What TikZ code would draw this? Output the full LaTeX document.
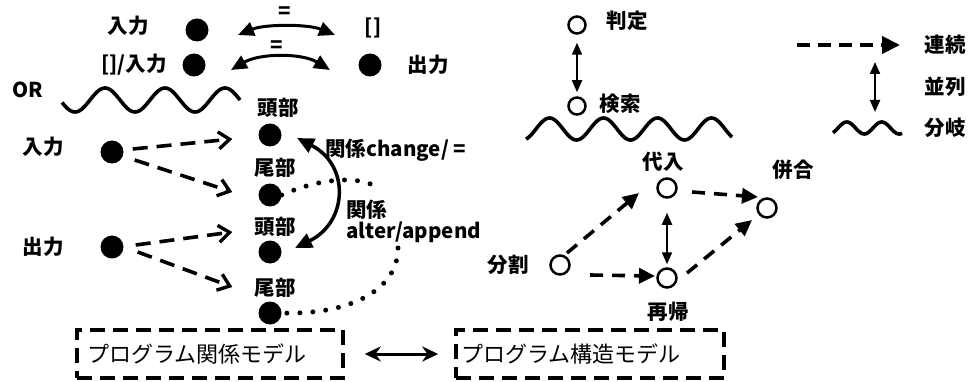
\documentclass[tikz,border=0pt]{standalone}
\usepackage{fontspec}
\setmainfont{Noto Sans CJK JP}
\usetikzlibrary{arrows.meta,calc}
\begin{document}
\begin{tikzpicture}[x=1pt,y=-1pt,
  lbl/.style={font=\bfseries\fontsize{20.5}{22}\selectfont, inner sep=0pt},
  dot/.style={circle, fill=black, minimum size=23pt, inner sep=0pt},
  ring/.style={circle, draw=black, line width=2.5pt, minimum size=19pt, inner sep=0pt},
  ringsm/.style={ring, minimum size=17pt},
  dasharr/.style={line width=3.6pt, dash pattern=on 15pt off 9pt, -{Straight Barb[length=11pt,width=17pt,line width=3.4pt]}},
  darr/.style={line width=3.6pt, dash pattern=on 13pt off 9pt, -{Triangle[length=16pt,width=15pt]}},
  arcarr/.style={line width=3pt, {Triangle[length=16pt,width=14pt]}-{Triangle[length=16pt,width=14pt]}},
  thinarr/.style={line width=2pt, {Triangle[length=12pt,width=10pt]}-{Triangle[length=12pt,width=10pt]}},
  wave/.style={line width=3.6pt, smooth},
  dotted line/.style={line width=5pt, dash pattern=on 0pt off 13pt, line cap=round},
  boxed/.style={draw=black, line width=3.5pt, dash pattern=on 15pt off 8pt, font=\fontsize{22}{24}\selectfont, minimum height=48pt, align=left}
]
\useasboundingbox[fill=white] (0,0) rectangle (973,382);

% ---------- top left: equalities ----------
\node[lbl] (inAl) at (128,26) {入力};
\node[dot] (inA) at (197,30) {};
\node[lbl] (nil) at (373,28) {[]};
\node[lbl] (eqA) at (285,13) {=};
\coordinate (a1s) at (238,35);
\coordinate (a1e) at (335,35);
\draw[arcarr] (a1s) .. controls (265,24) and (308,24) .. (a1e);

\node[lbl] (inBl) at (134,65) {[]/入力};
\node[dot] (inB) at (194,65) {};
\node[dot] (outA) at (370,65) {};
\node[lbl] (outAl) at (428,65) {出力};
\node[lbl] (eqB) at (277,47) {=};
\coordinate (a2s) at (231,70);
\coordinate (a2e) at (330,70);
\draw[arcarr] (a2s) .. controls (260,53) and (302,53) .. (a2e);

\node[lbl] (orl) at (28,90) {OR};
\draw[wave] plot[domain=62:240, samples=120] (\x,{100+12*sin((\x-60)*6)});

% ---------- left: head / tail ----------
\node[lbl] (h1l) at (278,108) {頭部};
\node[dot] (h1) at (270,135) {};
\node[lbl] (t1l) at (275,168) {尾部};
\node[dot] (t1) at (270,195) {};
\node[lbl] (h2l) at (275,227) {頭部};
\node[dot] (h2) at (270,252) {};
\node[lbl] (t2l) at (275,288) {尾部};
\node[dot] (t2) at (270,313) {};

\node[lbl] (i1l) at (43,147) {入力};
\node[dot] (i1) at (112,152) {};
\node[lbl] (o1l) at (43,247) {出力};
\node[dot] (o1) at (112,247) {};

\draw[dasharr] ($(i1.east)+(9,-3)$) -- ($(h1.west)+(-26,4)$);
\draw[dasharr] ($(i1.east)+(11,8)$) -- ($(t1.west)+(-26,-3)$);
\draw[dasharr] ($(o1.east)+(12,-2)$) -- ($(h2.west)+(-26,-20)$);
\draw[dasharr] ($(o1.east)+(14,5)$) -- ($(t2.west)+(-26,-26)$);

% dotted relation curve
\coordinate (dA) at (378,188);
\coordinate (dB) at (398,248);
\draw[dotted line] (t1.east) .. controls (320,178) and (360,175) .. (dA);
\draw[dotted line] (dB) .. controls (398,290) and (350,315) .. (t2.east);

% change arrow
\coordinate (cS) at (297,138);
\coordinate (cE) at (295,248);
\draw[line width=3.5pt, {Triangle[length=17pt,width=15pt]}-{Triangle[length=17pt,width=15pt]}]
  (cS) .. controls (350,165) and (348,222) .. (cE);

\node[lbl, anchor=west] (chg) at (325,150) {関係change/ =};
\node[lbl, anchor=west] (rel) at (346,210) {関係};
\node[lbl, anchor=west] (alt) at (346,232) {alter/append};

% ---------- top right ----------
\node[ringsm] (hantei) at (577,25) {};
\node[lbl] (hanteil) at (627,21) {判定};
\node[ringsm] (kensaku) at (577,106) {};
\node[lbl] (kensakul) at (620,104) {検索};
\draw[thinarr, shorten <=8pt, shorten >=4pt] (hantei) -- (kensaku);
\draw[wave] plot[domain=526:732, samples=140] (\x,{129-11*sin((\x-536)*6.667)});

% ---------- legend ----------
\node[lbl] (renl) at (945,45) {連続};
\node[lbl] (heil) at (945,87) {並列};
\node[lbl] (bunl) at (945,128) {分岐};
\coordinate (lgS) at (797,45);
\coordinate (lgE) at (900,45);
\draw[line width=4pt, dash pattern=on 13pt off 8pt, -{Triangle[length=18pt,width=17pt]}] (lgS) -- (lgE);
\coordinate (lvS) at (875,62);
\coordinate (lvE) at (875,112);
\draw[thinarr] (lvS) -- (lvE);
\draw[wave] plot[domain=833:902, samples=60] (\x,{128-6*sin((\x-838)*10.29)});

% ---------- lower right ----------
\node[ring] (bk) at (560,265) {};
\node[lbl] (bkl) at (508,265) {分割};
\node[ring] (dn) at (667,188) {};
\node[lbl] (dnl) at (663,162) {代入};
\node[ring] (hg) at (767,208) {};
\node[lbl] (hgl) at (793,170) {併合};
\node[ring] (sk) at (667,278) {};
\node[lbl] (skl) at (668,312) {再帰};

\draw[darr] ($(bk)+(7,-12)$) -- ($(dn)+(-28,5)$);
\draw[darr] ($(dn)+(25,4)$) -- ($(hg)+(-9,-11)$);
\draw[darr] ($(bk)+(30,10)$) -- ($(sk)+(-12,-2)$);
\draw[darr] ($(sk)+(20,-5)$) -- ($(hg)+(-15,12)$);
\draw[thinarr, shorten <=14pt, shorten >=3pt] (dn) -- (sk);

% ---------- bottom boxes ----------
\node[boxed, text width=246pt, inner xsep=10pt] (prm) at (210,354) {プログラム関係モデル};
\node[boxed, text width=258pt, inner xsep=5pt] (pst) at (590,354) {プログラム構造モデル};
\draw[line width=3pt, {Stealth[length=16pt,width=15pt]}-{Stealth[length=16pt,width=15pt]}, shorten <=20pt, shorten >=16pt] (prm.east) -- (pst.west);
\end{tikzpicture}
\end{document}
